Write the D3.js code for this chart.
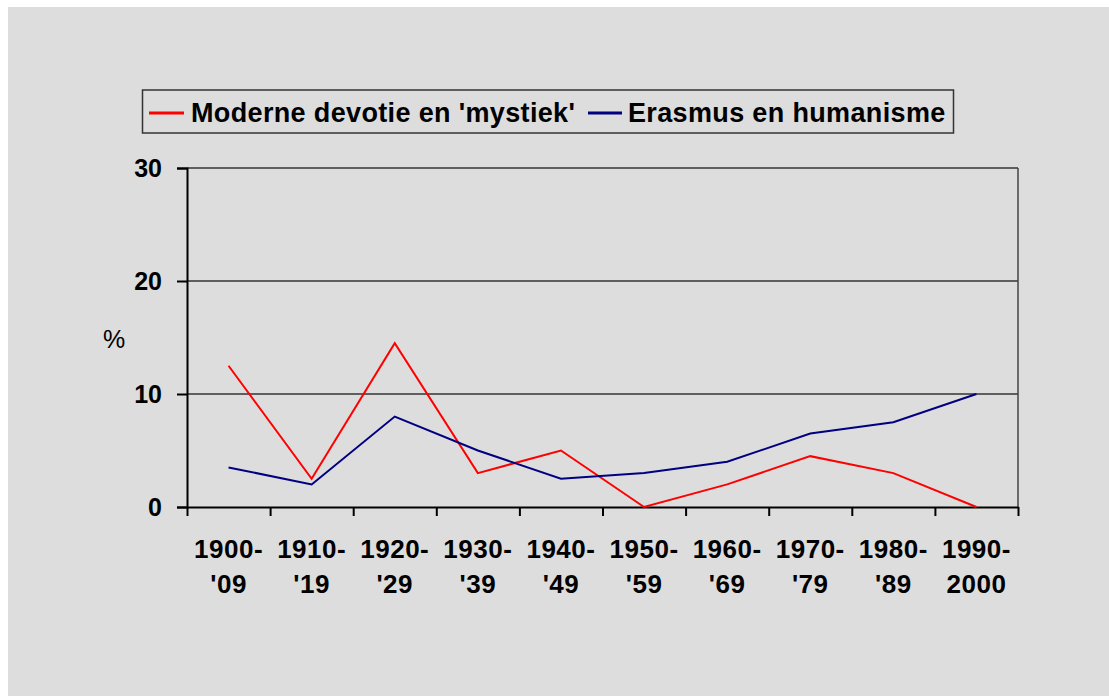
<!DOCTYPE html>
<html><head><meta charset="utf-8">
<script src="https://cdn.jsdelivr.net/npm/d3@7"></script>
<style>body{margin:0;background:#fff;}svg{display:block;font-family:"Liberation Sans",Arial,sans-serif;}</style>
</head><body>
<script>
const categories = [["1900-","'09"],["1910-","'19"],["1920-","'29"],["1930-","'39"],["1940-","'49"],["1950-","'59"],["1960-","'69"],["1970-","'79"],["1980-","'89"],["1990-","2000"]];
const moderneDevotie = [12.5, 2.5, 14.5, 3, 5, 0, 2, 4.5, 3, 0];
const erasmus = [3.5, 2, 8, 5, 2.5, 3, 4, 6.5, 7.5, 10];
const yTicks = [0, 10, 20, 30];
const seriesNames = ["Moderne devotie en 'mystiek'", "Erasmus en humanisme"];

(function () {
const W = 1109, H = 696;
const svg = d3.select("body").append("svg").attr("width", W).attr("height", H);
svg.append("rect").attr("x", 8).attr("y", 7).attr("width", W - 8).attr("height", H - 7).attr("fill", "#dddddd");

const pL = 187, pR = 1018, pT = 168, pB = 507;
const x = d3.scaleBand().domain(d3.range(categories.length)).range([pL, pR]);
const y = d3.scaleLinear().domain([0, 30]).range([pB, pT]);

// gridlines
svg.append("g").selectAll("line").data(yTicks.filter(d => d > 0)).join("line")
  .attr("x1", pL).attr("x2", pR).attr("y1", d => y(d)).attr("y2", d => y(d))
  .attr("stroke", "#333").attr("stroke-width", 1.5);
// right border
svg.append("line").attr("x1", pR).attr("x2", pR).attr("y1", pT).attr("y2", pB)
  .attr("stroke", "#444").attr("stroke-width", 1.5);

// y axis
const yAxis = svg.append("g").attr("transform", `translate(${pL},0)`)
  .call(d3.axisLeft(y).tickValues(yTicks).tickSize(10).tickPadding(15));
yAxis.select(".domain").attr("stroke", "#000").attr("stroke-width", 2);
yAxis.selectAll(".tick line").attr("stroke", "#000").attr("stroke-width", 2);
yAxis.selectAll(".tick text").attr("font-size", 25).attr("font-weight", "bold").attr("fill", "#000")
  .attr("font-family", "Liberation Sans, Arial, sans-serif");

// x axis
const xTickScale = d3.scaleLinear().domain([0, categories.length]).range([pL, pR]);
const xAxis = svg.append("g").attr("transform", `translate(0,${pB})`)
  .call(d3.axisBottom(xTickScale).tickValues(d3.range(categories.length + 1)).tickSize(9).tickFormat("").tickSizeOuter(0));
xAxis.select(".domain").attr("stroke", "#000").attr("stroke-width", 2);
xAxis.selectAll(".tick line").attr("stroke", "#000").attr("stroke-width", 2);

const xl = svg.append("g").selectAll("text").data(categories).join("text")
  .attr("x", (d, i) => x(i) + x.bandwidth() / 2)
  .attr("text-anchor", "middle").attr("font-size", 26).attr("font-weight", "bold")
  .attr("letter-spacing", 0.5).attr("fill", "#000");
xl.append("tspan").attr("x", (d, i) => x(i) + x.bandwidth() / 2).attr("y", 558).text(d => d[0]);
xl.append("tspan").attr("x", (d, i) => x(i) + x.bandwidth() / 2).attr("y", 593).text(d => d[1]);

// % label
svg.append("text").attr("x", 114).attr("y", 348).attr("text-anchor", "middle")
  .attr("font-size", 25).attr("fill", "#000").text("%");

// lines
const line = d3.line().x((d, i) => x(i) + x.bandwidth() / 2).y(d => y(d));
svg.append("path").datum(moderneDevotie).attr("d", line).attr("fill", "none").attr("stroke", "#ff0000").attr("stroke-width", 2);
svg.append("path").datum(erasmus).attr("d", line).attr("fill", "none").attr("stroke", "#000080").attr("stroke-width", 2);

// legend
const lg = svg.append("g");
lg.append("rect").attr("x", 142.5).attr("y", 90).attr("width", 811).attr("height", 43)
  .attr("fill", "#dddddd").attr("stroke", "#333").attr("stroke-width", 1.5);
const legendItems = [
  {name: seriesNames[0], color: "#ff0000", x1: 149, x2: 184, tx: 191},
  {name: seriesNames[1], color: "#000080", x1: 588, x2: 622, tx: 628}
];
legendItems.forEach(it => {
  lg.append("line").attr("x1", it.x1).attr("x2", it.x2).attr("y1", 113).attr("y2", 113)
    .attr("stroke", it.color).attr("stroke-width", 3);
  lg.append("text").attr("x", it.tx).attr("y", 122).attr("font-size", 27).attr("font-weight", "bold")
    .attr("letter-spacing", 0.35).attr("fill", "#000").text(it.name);
});
})();
</script>
</body></html>
